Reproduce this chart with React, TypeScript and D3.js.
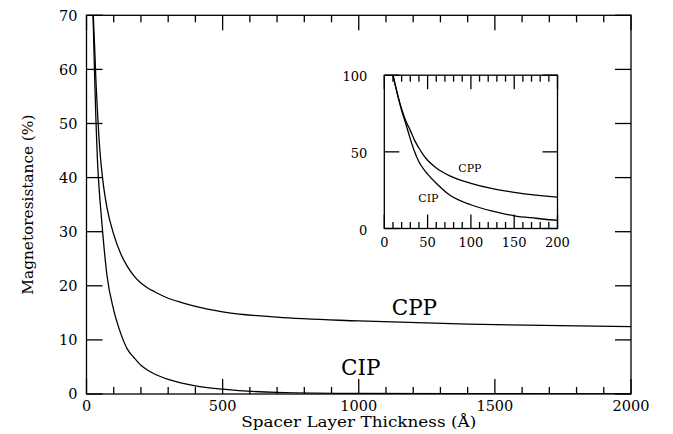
import React from "react";
import * as d3 from "d3";

const thickness = [10, 15, 20, 25, 30, 35, 40, 45, 50, 60, 75, 100, 125, 150, 175, 200, 225, 250, 300, 350, 400, 500, 700, 1000, 1400, 2000];
const cipValues = [100, 88, 77, 68, 58.5, 50, 43.5, 39, 35.5, 29.5, 22, 15.5, 11.3, 8.3, 6.7, 5.3, 4.4, 3.7, 2.7, 2.0, 1.5, 0.9, 0.3, 0.1, 0.05, 0.02];
const cppValues = [100, 88, 78, 70, 64, 57.5, 52.5, 48, 44.5, 39.5, 34.5, 29.5, 26, 23.6, 21.8, 20.5, 19.6, 18.9, 17.7, 16.9, 16.2, 15.2, 14.2, 13.5, 12.9, 12.45];

const mainXTicks = [0, 500, 1000, 1500, 2000];
const mainYTicks = [0, 10, 20, 30, 40, 50, 60, 70];
const insetXTicks = [0, 50, 100, 150, 200];
const insetYTicks = [0, 50, 100];

const FONT = "'DejaVu Serif', serif";

export default function App() {
  const W = 673, H = 434;
  const m = { l: 86.5, r: 631, t: 15.3, b: 394 };
  const x = d3.scaleLinear().domain([0, 2000]).range([m.l, m.r]);
  const y = d3.scaleLinear().domain([0, 70]).range([m.b, m.t]);

  const ins = { l: 384.3, r: 557.5, t: 75.2, b: 228.5 };
  const xi = d3.scaleLinear().domain([0, 200]).range([ins.l, ins.r]);
  const yi = d3.scaleLinear().domain([0, 100]).range([ins.b, ins.t]);

  const pts = (vals: number[]) => thickness.map((t, i) => [t, vals[i]] as [number, number]);
  const lineMain = d3.line<[number, number]>().x(d => x(d[0])).y(d => y(d[1])).curve(d3.curveMonotoneX);
  const lineIns = d3.line<[number, number]>().x(d => xi(d[0])).y(d => yi(d[1])).curve(d3.curveMonotoneX);

  const mainMinor = d3.range(0, 2001, 100);
  const insMinor = d3.range(0, 201, 10);
  const sw = 1.3;

  return (
    <svg width={W} height={H} style={{ position: "absolute", left: 0, top: 0, background: "#fff" }}>
      <defs>
        <clipPath id="clipMain">
          <rect x={m.l} y={m.t} width={m.r - m.l} height={m.b - m.t} />
        </clipPath>
        <clipPath id="clipIns">
          <rect x={ins.l} y={ins.t} width={ins.r - ins.l} height={ins.b - ins.t} />
        </clipPath>
      </defs>
      <rect x={0} y={0} width={W} height={H} fill="#fff" />

      {/* main curves */}
      <g clipPath="url(#clipMain)" fill="none" stroke="#000" strokeWidth={sw}>
        <path d={lineMain(pts(cppValues)) || ""} />
        <path d={lineMain(pts(cipValues)) || ""} />
      </g>

      {/* main ticks */}
      <g stroke="#000" strokeWidth={sw}>
        {mainMinor.map(v => {
          const len = v % 500 === 0 ? 15 : 7;
          return (
            <g key={"mx" + v}>
              <line x1={x(v)} x2={x(v)} y1={m.b} y2={m.b - len} />
              <line x1={x(v)} x2={x(v)} y1={m.t} y2={m.t + len} />
            </g>
          );
        })}
        {mainYTicks.map(v => (
          <g key={"my" + v}>
            <line x1={m.l} x2={m.l + 16} y1={y(v)} y2={y(v)} />
            <line x1={m.r} x2={m.r - 16} y1={y(v)} y2={y(v)} />
          </g>
        ))}
        <rect x={m.l} y={m.t} width={m.r - m.l} height={m.b - m.t} fill="none" />
      </g>

      {/* main tick labels */}
      <g fontFamily={FONT} fontSize={14.5} fill="#000">
        {mainXTicks.map(v => (
          <text key={"lx" + v} x={x(v)} y={m.b + 16.5} textAnchor="middle">{v}</text>
        ))}
        {mainYTicks.map(v => (
          <text key={"ly" + v} x={m.l - 9} y={y(v) + 5.2} textAnchor="end">{v}</text>
        ))}
      </g>

      {/* axis titles */}
      <text x={(m.l + m.r) / 2} y={427} textAnchor="middle" fontFamily={FONT} fontSize={15} fill="#000"
        textLength={235} lengthAdjust="spacingAndGlyphs">
        Spacer Layer Thickness (Å)
      </text>
      <text transform={`translate(32.5, ${(m.t + m.b) / 2}) rotate(-90)`} textAnchor="middle" fontFamily={FONT} fontSize={15} fill="#000"
        textLength={180} lengthAdjust="spacingAndGlyphs">
        Magnetoresistance (%)
      </text>

      {/* main series labels */}
      <text x={391.7} y={315} fontFamily={FONT} fontSize={21.5} fill="#000">CPP</text>
      <text x={341} y={375} fontFamily={FONT} fontSize={21.5} fill="#000">CIP</text>

      {/* inset */}
      <rect x={ins.l} y={ins.t} width={ins.r - ins.l} height={ins.b - ins.t} fill="#fff" />
      <g clipPath="url(#clipIns)" fill="none" stroke="#000" strokeWidth={sw}>
        <path d={lineIns(pts(cppValues)) || ""} />
        <path d={lineIns(pts(cipValues)) || ""} />
      </g>
      <g stroke="#000" strokeWidth={sw}>
        {insMinor.map(v => {
          const len = v % 50 === 0 ? 14 : 6.5;
          return (
            <g key={"ix" + v}>
              <line x1={xi(v)} x2={xi(v)} y1={ins.b} y2={ins.b - len} />
              <line x1={xi(v)} x2={xi(v)} y1={ins.t} y2={ins.t + len} />
            </g>
          );
        })}
        {insetYTicks.map(v => (
          <g key={"iy" + v}>
            <line x1={ins.l} x2={ins.l + 15} y1={yi(v)} y2={yi(v)} />
            <line x1={ins.r} x2={ins.r - 15} y1={yi(v)} y2={yi(v)} />
          </g>
        ))}
        <rect x={ins.l} y={ins.t} width={ins.r - ins.l} height={ins.b - ins.t} fill="none" />
      </g>
      <g fontFamily={FONT} fontSize={13} fill="#000">
        {insetXTicks.map(v => (
          <text key={"ilx" + v} x={xi(v)} y={ins.b + 18} textAnchor="middle">{v}</text>
        ))}
        {insetYTicks.map(v => (
          <text key={"ily" + v} x={ins.l - 17} y={yi(v) + 6} textAnchor="end">{v}</text>
        ))}
      </g>
      <text x={458.3} y={171.7} fontFamily={FONT} fontSize={11} fill="#000">CPP</text>
      <text x={418.3} y={201.7} fontFamily={FONT} fontSize={11} fill="#000">CIP</text>
    </svg>
  );
}
